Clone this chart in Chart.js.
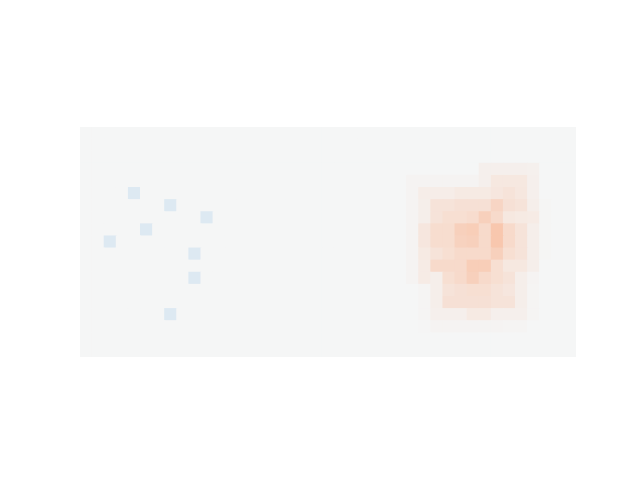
<!DOCTYPE html>
<html>
<head>
<meta charset="utf-8">
<script src="https://cdn.jsdelivr.net/npm/chart.js@4"></script>
<style>
  html, body { margin: 0; padding: 0; background: #ffffff; }
  #c { display: block; }
</style>
</head>
<body>
<canvas id="c" width="640" height="480"></canvas>
<script>
// Grid size
const nCols = 41;
const nRows = 19;

// Cool (negative) cells: column and row indices (row 0 = top)
const coolCols = [4, 7, 10, 5, 2, 9, 9, 7];
const coolRows = [5, 6, 7, 8, 9, 10, 12, 15];
const coolValue = -1;

// Warm blob values, columns 27..38, rows 3..16
const warmColStart = 27;
const warmRowStart = 3;
const warmRow03 = [0,   0,   0,   0,   0,   0,   0.7, 0.7, 0.7, 0.7, 0.6, 0];
const warmRow04 = [0.3, 0.3, 0.3, 0.3, 0.3, 0.3, 0.7, 1.5, 1.5, 1.5, 0.7, 0];
const warmRow05 = [0.3, 1.0, 1.0, 1.0, 1.3, 1.3, 1.3, 1.7, 2.0, 1.6, 0.7, 0];
const warmRow06 = [0.3, 0.8, 2.0, 2.0, 2.3, 2.3, 2.3, 3.5, 2.3, 2.0, 0.8, 0.15];
const warmRow07 = [0.3, 0.8, 2.0, 2.5, 2.5, 2.8, 4.0, 3.0, 1.5, 1.3, 1.2, 0.15];
const warmRow08 = [0.3, 1.7, 2.7, 2.7, 4.0, 4.3, 3.0, 5.0, 3.0, 2.0, 0.8, 0.15];
const warmRow09 = [0.3, 1.7, 2.7, 2.7, 3.8, 4.0, 3.0, 5.0, 3.0, 2.0, 0.8, 0.15];
const warmRow10 = [0.3, 1.3, 2.0, 2.5, 3.0, 3.0, 3.0, 4.0, 2.5, 2.0, 0.8, 0.15];
const warmRow11 = [0.3, 1.2, 3.0, 3.0, 3.0, 4.3, 4.3, 2.5, 1.5, 1.5, 0.8, 0];
const warmRow12 = [0.3, 1.2, 0.8, 2.5, 3.0, 4.0, 3.0, 2.5, 2.0, 0.8, 0.3, 0];
const warmRow13 = [0,   0.2, 0.8, 2.0, 2.3, 2.5, 2.5, 2.0, 1.7, 0.8, 0.2, 0];
const warmRow14 = [0,   0.2, 0.8, 2.3, 2.3, 2.3, 2.3, 2.0, 2.0, 0.8, 0.2, 0];
const warmRow15 = [0,   0.2, 0.7, 0.7, 0.7, 1.3, 1.3, 0.7, 0.7, 0.7, 0.2, 0];
const warmRow16 = [0,   0.1, 0.3, 0.3, 0.3, 0.3, 0.3, 0.3, 0.2, 0.2, 0,   0];
const warmRows = [warmRow03, warmRow04, warmRow05, warmRow06, warmRow07, warmRow08,
  warmRow09, warmRow10, warmRow11, warmRow12, warmRow13, warmRow14, warmRow15, warmRow16];

// Build the full grid
const grid = [];
for (let r = 0; r < nRows; r++) grid.push(new Array(nCols).fill(0));
warmRows.forEach((row, i) => row.forEach((v, j) => { grid[warmRowStart + i][warmColStart + j] = v; }));
coolCols.forEach((c, i) => { grid[coolRows[i]][c] = coolValue; });

// Colour scale
const zeroRGB = [245, 246, 246];
const warmRGB = [248, 199, 174];
const coolRGB = [221, 233, 242];
const warmMax = 5;
function colorFor(v) {
  let t, target;
  if (v >= 0) { t = Math.min(v / warmMax, 1); target = warmRGB; }
  else { t = Math.min(-v, 1); target = coolRGB; }
  const c = zeroRGB.map((z, k) => Math.round(z + (target[k] - z) * t));
  return `rgb(${c[0]},${c[1]},${c[2]})`;
}

const labels = Array.from({length: nCols}, (_, i) => String(i));
const datasets = [];
for (let k = 0; k < nRows; k++) {
  const r = nRows - 1 - k; // dataset 0 is the bottom row
  datasets.push({
    label: 'row ' + r,
    data: new Array(nCols).fill(1),
    backgroundColor: grid[r].map(colorFor),
    borderWidth: 0,
    barPercentage: 1,
    categoryPercentage: 1,
    inflateAmount: 0.5
  });
}

new Chart(document.getElementById('c'), {
  type: 'bar',
  data: { labels, datasets },
  options: {
    responsive: false,
    animation: false,
    layout: { padding: { left: 80, right: 64, top: 127, bottom: 123 } },
    plugins: { legend: { display: false }, tooltip: { enabled: false } },
    scales: {
      x: { stacked: true, display: false, offset: true },
      y: { stacked: true, display: false, min: 0, max: nRows }
    }
  }
});
</script>
</body>
</html>
